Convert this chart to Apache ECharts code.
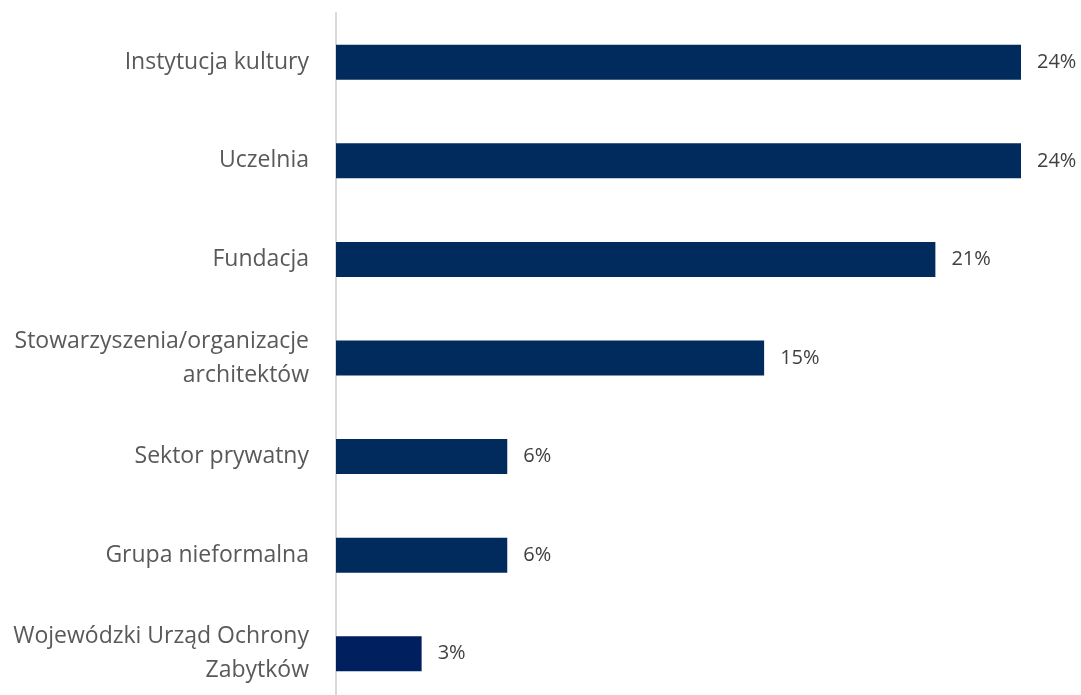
<!DOCTYPE html>
<html>
<head>
<meta charset="utf-8">
<script src="https://cdn.jsdelivr.net/npm/echarts@6/dist/echarts.min.js"></script>
<style>
  html, body { margin: 0; padding: 0; background: #fff; overflow: hidden; }
  #chart { width: 1081px; height: 703px; }
</style>
</head>
<body>
<div id="chart"></div>
<script>
// kategorie (od góry)
const categories = [
  'Instytucja kultury',
  'Uczelnia',
  'Fundacja',
  'Stowarzyszenia/organizacje\narchitektów',
  'Sektor prywatny',
  'Grupa nieformalna',
  'Wojewódzki Urząd Ochrony\nZabytków'
];
const values = [24, 24, 21, 15, 6, 6, 3];
const barColors = ['#002B5C', '#002B5C', '#002B5C', '#002B5C', '#002B5C', '#002B5C', '#001F5E'];

const chart = echarts.init(document.getElementById('chart'));

const option = {
  animation: false,
  textStyle: { fontFamily: 'Open Sans' },
  grid: {
    left: 336,
    top: 13,
    width: 685,
    bottom: 0
  },
  xAxis: {
    type: 'value',
    min: 0,
    max: 24,
    show: false
  },
  yAxis: {
    type: 'category',
    inverse: true,
    data: categories,
    axisLine: { show: true, lineStyle: { color: '#d9d9d9', width: 2 } },
    axisTick: { show: false },
    axisLabel: {
      color: '#595959',
      fontSize: 23,
      margin: 27,
      lineHeight: 34,
      align: 'right'
    }
  },
  series: [{
    type: 'bar',
    barWidth: 35,
    data: values.map((v, i) => ({ value: v, itemStyle: { color: barColors[i] } })),
    label: {
      show: true,
      position: 'right',
      distance: 16,
      color: '#404040',
      fontSize: 20,
      formatter: p => p.value + '%'
    }
  }]
};

chart.setOption(option);
</script>
</body>
</html>
